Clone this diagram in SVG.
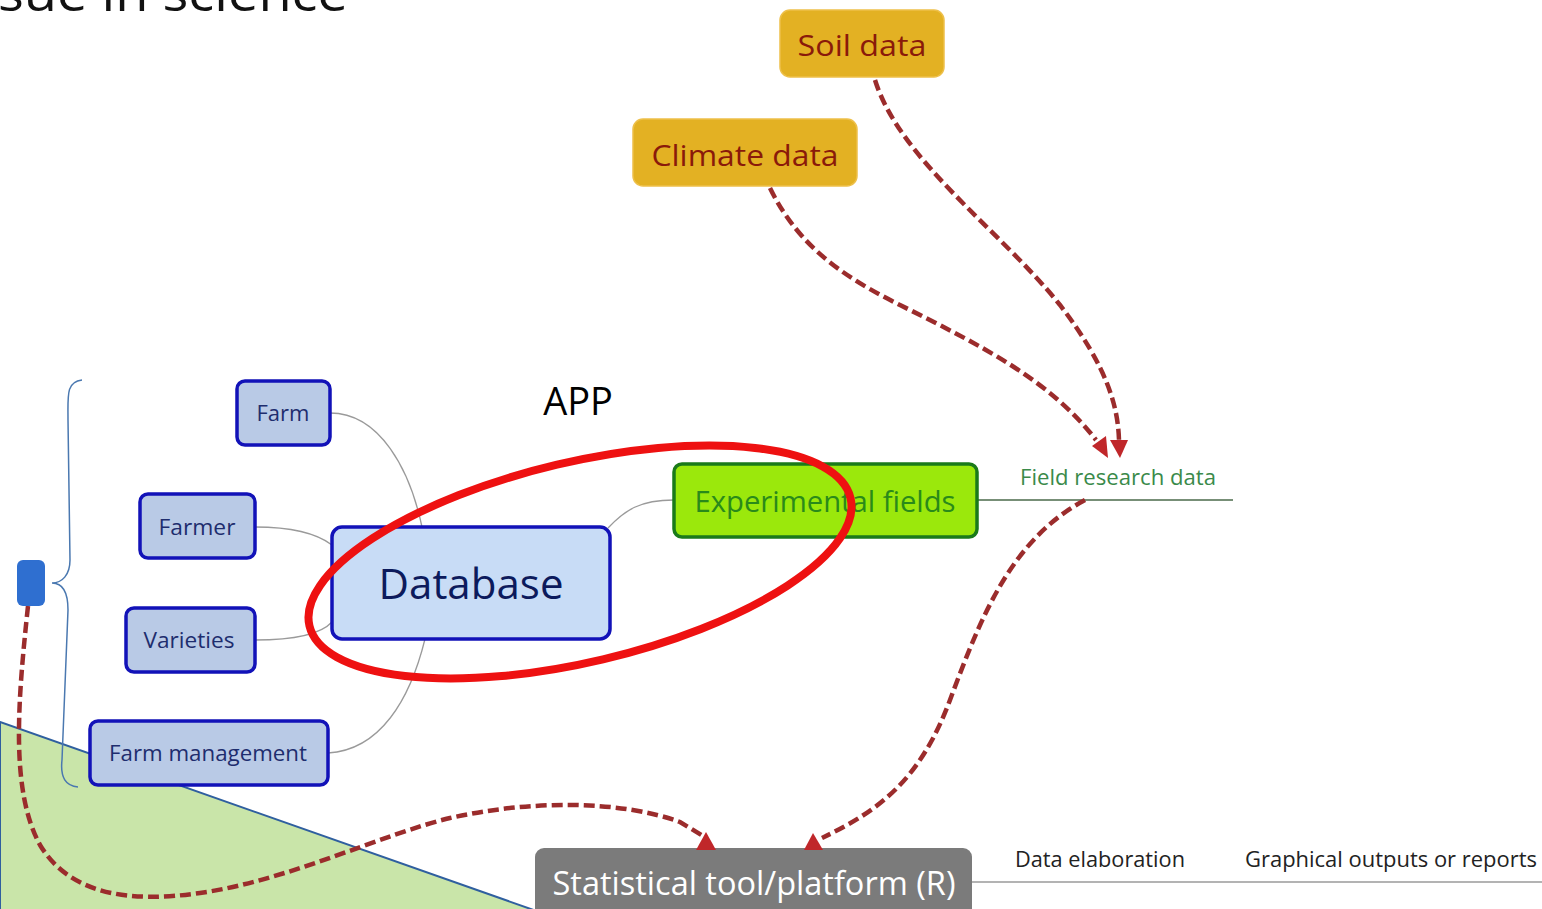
<svg xmlns="http://www.w3.org/2000/svg" width="1542" height="909" viewBox="0 0 1542 909">
<defs>
<style>
.t{font-family:"Open Sans","Noto Sans","Liberation Sans",sans-serif;}
.blue rect{fill:#b9cae6;stroke:#1212b8;stroke-width:3.5;}
.blue text{fill:#1e2d6e;font-size:22px;text-anchor:middle;}
.gold rect{fill:#e3b123;stroke:#eec04a;stroke-width:1.5;}
.gold text{fill:#8a1a0a;font-size:30px;text-anchor:middle;}
.con{fill:none;stroke:#9a9a9a;stroke-width:1.3;}
.dash{fill:none;stroke:#9b2c2c;stroke-width:4.5;stroke-dasharray:11 5;}
.head{fill:#c0272a;}
.lbl{fill:#222;font-size:22px;}
</style>
</defs>
<rect width="1542" height="909" fill="#ffffff"/>
<polygon points="0,722 545,914 0,914" fill="#c9e5a9" stroke="#2f5f9f" stroke-width="2"/>
<text class="t" x="-2" y="11" font-size="50" fill="#111" textLength="350" lengthAdjust="spacingAndGlyphs">sue in science</text>
<text class="t" x="578" y="415" font-size="38" text-anchor="middle" fill="#000">APP</text>
<path d="M82,380 C66,382 68,395 68,420 L70,560 C70,575 62,583 52,583 C62,583 68,592 68,610 L62,760 C60,778 66,786 78,787" fill="none" stroke="#4a78b0" stroke-width="1.5"/>
<g id="connectors">
<path class="con" d="M330,413 C380,413 410,470 422,527"/>
<path class="con" d="M255,527 C290,527 315,532 332,545"/>
<path class="con" d="M255,640 C290,640 320,635 332,622"/>
<path class="con" d="M328,753 C380,750 410,700 425,639"/>
<path class="con" d="M608,528 C625,510 640,500 674,500"/>
<path d="M977,500 L1233,500" fill="none" stroke="#4a6a4a" stroke-width="1.5"/>
<path d="M972,882 L1542,882" fill="none" stroke="#9a9a9a" stroke-width="1.5"/>
<path class="dash" d="M875,80 C900,160 1000,230 1060,305 C1110,370 1118,410 1119,440"/>
<path class="dash" d="M770,188 C800,250 850,280 900,305 C980,345 1050,380 1096,440"/>
<path class="dash" d="M1085,500 C1010,540 980,620 950,700 C920,780 880,810 822,838"/>
<path class="dash" d="M28,606 C18,700 10,790 40,845 C70,895 130,903 200,893 C290,880 380,835 450,818 C530,800 620,800 680,822 L703,836"/>
<polygon class="head" points="1110,440 1128,440 1120,458"/>
<polygon class="head" points="1092,446 1106,436 1108,458"/>
</g>
<g id="stat">
<rect x="535" y="848" width="437" height="80" rx="9" fill="#7b7b7b"/>
<text class="t" x="754" y="895" font-size="32" text-anchor="middle" fill="#ffffff" textLength="403" lengthAdjust="spacingAndGlyphs">Statistical tool/platform (R)</text>
</g>
<polygon class="head" points="696,850 716,850 706,832"/>
<polygon class="head" points="804,850 823,850 813,833"/>
<g id="soil" class="gold t">
<rect x="780" y="10" width="164" height="67" rx="10"/>
<text x="862" y="56" textLength="129" lengthAdjust="spacingAndGlyphs">Soil data</text>
</g>
<g id="climate" class="gold t">
<rect x="633" y="119" width="224" height="67" rx="10"/>
<text x="745" y="166" textLength="187" lengthAdjust="spacingAndGlyphs">Climate data</text>
</g>
<g id="farm" class="blue t">
<rect x="237" y="381" width="93" height="64" rx="8"/>
<text x="283" y="421" textLength="53" lengthAdjust="spacingAndGlyphs">Farm</text>
</g>
<g id="farmer" class="blue t">
<rect x="140" y="494" width="115" height="64" rx="8"/>
<text x="197" y="535" textLength="77" lengthAdjust="spacingAndGlyphs">Farmer</text>
</g>
<g id="varieties" class="blue t">
<rect x="126" y="608" width="129" height="64" rx="8"/>
<text x="189" y="648" textLength="91" lengthAdjust="spacingAndGlyphs">Varieties</text>
</g>
<g id="farmmanagement" class="blue t">
<rect x="90" y="721" width="238" height="64" rx="8"/>
<text x="208" y="761" textLength="198" lengthAdjust="spacingAndGlyphs">Farm management</text>
</g>
<g id="database" class="t">
<rect x="332" y="527" width="278" height="112" rx="10" fill="#c8dcf6" stroke="#1212b8" stroke-width="3.5"/>
<text x="471" y="599" font-size="42" text-anchor="middle" fill="#0c1a5c" textLength="185" lengthAdjust="spacingAndGlyphs">Database</text>
</g>
<g id="experimental" class="t">
<rect x="674" y="464" width="303" height="73" rx="8" fill="#9be80c" stroke="#1a7a1a" stroke-width="3.5"/>
<text x="825" y="512" font-size="30" text-anchor="middle" fill="#2a8a1a" textLength="261" lengthAdjust="spacingAndGlyphs">Experimental fields</text>
</g>
<g id="fieldresearch" class="t">
<text x="1020" y="485" font-size="22" fill="#3a8a4a" textLength="196" lengthAdjust="spacingAndGlyphs">Field research data</text>
</g>
<g id="blueroot">
<rect x="17" y="560" width="28" height="46" rx="6" fill="#2f6fd0"/>
</g>
<g id="labels" class="t">
<text class="lbl" x="1015" y="867" textLength="170" lengthAdjust="spacingAndGlyphs">Data elaboration</text>
<text class="lbl" x="1245" y="867" textLength="292" lengthAdjust="spacingAndGlyphs">Graphical outputs or reports</text>
</g>
<ellipse cx="580" cy="562" rx="278" ry="100" transform="rotate(-13.3 580 562)" fill="none" stroke="#ee1111" stroke-width="8"/>
</svg>
